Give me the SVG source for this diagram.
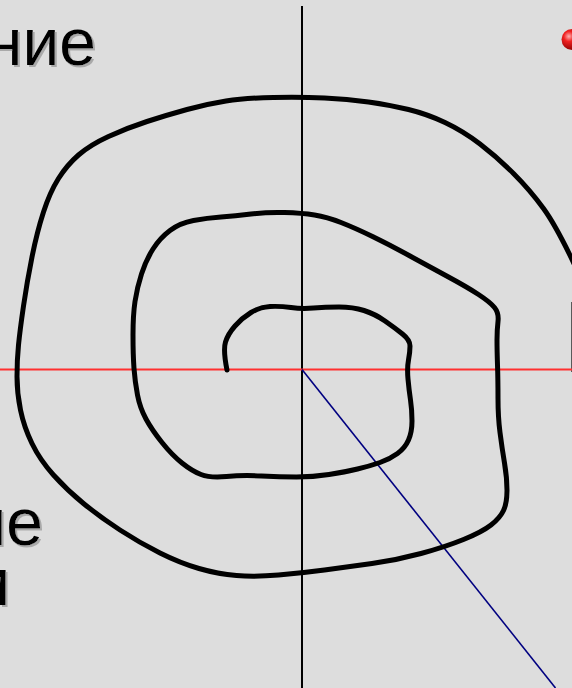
<svg xmlns="http://www.w3.org/2000/svg" width="572" height="688" viewBox="0 0 572 688">
<defs>
<style>
.t{font-family:"Liberation Sans",Arial,sans-serif;font-size:66px;fill:#000;filter:url(#shadow)}
</style>
<filter id="shadow" x="-10%" y="-10%" width="130%" height="130%">
<feOffset in="SourceAlpha" dx="2" dy="2" result="o"/>
<feFlood flood-color="#a9a9a9"/>
<feComposite in2="o" operator="in" result="s"/>
<feMerge><feMergeNode in="s"/><feMergeNode in="SourceGraphic"/></feMerge>
</filter>
<radialGradient id="ball" cx="0.35" cy="0.35" r="0.7">
<stop offset="0" stop-color="#ffb0b0"/>
<stop offset="0.35" stop-color="#f02020"/>
<stop offset="1" stop-color="#8a0000"/>
</radialGradient>
</defs>
<rect x="0" y="0" width="572" height="688" fill="#dddddd"/>
<g id="text-top">
<text class="t" x="96" y="65" text-anchor="end">ние</text>
</g>
<g id="text-bottom">
<text class="t" x="43" y="545" text-anchor="end">не</text>
<text class="t" x="10" y="605" text-anchor="end">и</text>
</g>
<g id="bullet">
<circle cx="572" cy="39.5" r="10.5" fill="url(#ball)"/>
</g>
<g id="edge">
<line x1="571.5" y1="302" x2="571.5" y2="372" stroke="#5a5a5a" stroke-width="1"/>
</g>
<g id="axes">
<line x1="302" y1="6" x2="302" y2="688" stroke="#000" stroke-width="2"/>
<line x1="0" y1="369.5" x2="572" y2="369.5" stroke="#ff3030" stroke-width="2.2"/>
<line x1="302" y1="369.5" x2="555.5" y2="688" stroke="#000080" stroke-width="1.6"/>
</g>
<g id="spiral">
<path fill="none" stroke="#000" stroke-width="5" stroke-linecap="round" stroke-linejoin="round" d="M227,370 Q223,350 225.5,342 T235,326 T251,312.5 T270,306.5 T291,307.5 T313.5,308 T339,307 T364,310.5 T385,321 T402.5,334 T410,346 T408.5,360 T408,379 T410.5,400 T412,421 T408.5,440 T397.5,453.5 T380,462.5 T357.5,469 T329,474.5 T296.5,477 T261.5,476 T226.5,476.5 T201,474.5 T182,463 T162,442.5 T146,419 T137.5,395 T134,368.5 T133,335 T135,301.5 T141.5,274 T153,249 T170,230.5 T193.5,220.5 T221,217 T251,214 T284.5,212.5 T314.5,215 T341,222.5 T372.5,236.5 T410,256 T448.5,277 T478.5,294.5 T494.5,307.5 T498,321.5 T497,340 T497.5,365 T498,398.5 T500,432.5 T504.5,463 T507,490.5 T503.5,510.5 T491,525 T463.5,539.5 T421,553.5 T372,563.5 T324.5,570 T278.5,575 T236.5,575.5 T199,568.5 T160,553 T120,530 T83.5,503.5 T53.5,475 T32,443.5 T20.5,410 T17,376.5 T18.5,345 T23.5,306 T32,257 T43.5,212 T58.5,178.5 T78.5,155 T108.5,136.5 T147,121.5 T187,109.5 T226,101 T273.5,97.5 T324.5,98 T368.5,102 T408.5,109.5 T445,122.5 T480,144 T513.5,173.5 T543.5,208.5 T578,272"/>
</g>
</svg>
